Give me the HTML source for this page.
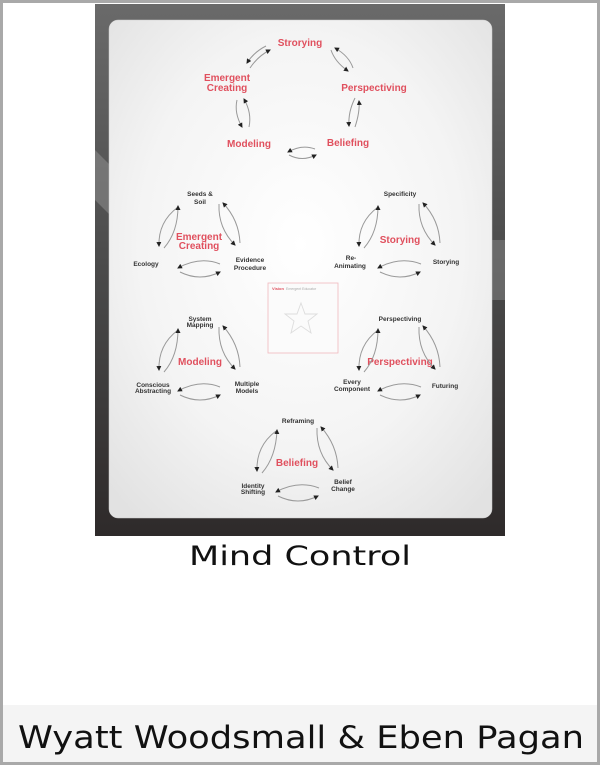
<!DOCTYPE html>
<html><head><meta charset="utf-8"><style>
html,body{margin:0;padding:0;background:#fff;}
svg{display:block;}
.r{font-family:"Liberation Sans",sans-serif;font-weight:bold;fill:#e0505e;font-size:10px;text-anchor:middle;}
.k{font-family:"Liberation Sans",sans-serif;font-weight:bold;fill:#333;font-size:6.5px;text-anchor:middle;}
.a{fill:none;stroke:#999;stroke-width:1;}
</style></head><body>
<svg width="600" height="765" viewBox="0 0 600 765" xmlns="http://www.w3.org/2000/svg">
<defs>
<marker id="m" markerWidth="5" markerHeight="5" refX="4" refY="2.5" orient="auto" markerUnits="userSpaceOnUse"><path d="M0,0 L5,2.5 L0,5z" fill="#222"/></marker>
<linearGradient id="dk" x1="0" y1="0" x2="0" y2="1">
<stop offset="0" stop-color="#6a6a6a"/><stop offset="0.5" stop-color="#4a4a4a"/><stop offset="1" stop-color="#2e2a2a"/></linearGradient>
<radialGradient id="cd" cx="0.5" cy="0.45" r="0.7"><stop offset="0" stop-color="#ffffff"/><stop offset="0.6" stop-color="#f4f4f4"/><stop offset="1" stop-color="#e2e2e2"/></radialGradient>
</defs>
<rect x="0" y="0" width="600" height="765" fill="#a9a9a9"/>
<rect x="3" y="3" width="594" height="759" fill="#fff"/>
<rect x="3" y="705" width="594" height="57" fill="#f4f4f4"/>
<rect x="95" y="4" width="410" height="532" fill="url(#dk)"/>
<polygon points="95,150 110,165 110,215 95,200" fill="#8a8a8a" opacity="0.6"/>
<rect x="492" y="240" width="13" height="60" fill="#888" opacity="0.5"/>
<rect x="109" y="20" width="383" height="498" rx="9" fill="url(#cd)" stroke="#ccc" stroke-width="0.5"/>

<text class="r" x="300" y="46">Strorying</text>
<text class="r" x="227" y="81">Emergent</text><text class="r" x="227" y="91">Creating</text>
<text class="r" x="374" y="91">Perspectiving</text>
<text class="r" x="249" y="147">Modeling</text>
<text class="r" x="348" y="146">Beliefing</text>
<path class="a" marker-end="url(#m)" d="M250,68 Q258,56 270,50"/>
<path class="a" marker-end="url(#m)" d="M266,46 Q254,52 247,63"/>
<path class="a" marker-end="url(#m)" d="M331,50 Q335,62 348,71"/>
<path class="a" marker-end="url(#m)" d="M353,68 Q349,56 335,48"/>
<path class="a" marker-end="url(#m)" d="M237,100 Q234,113 242,127"/>
<path class="a" marker-end="url(#m)" d="M249,127 Q252,113 244,99"/>
<path class="a" marker-end="url(#m)" d="M355,98 Q348,112 349,126"/>
<path class="a" marker-end="url(#m)" d="M355,127 Q360,112 359,101"/>
<path class="a" marker-end="url(#m)" d="M315,149 Q302,144 288,152"/>
<path class="a" marker-end="url(#m)" d="M289,155 Q302,162 316,155"/>

<g>
<text class="k" x="200" y="196">Seeds &amp;</text><text class="k" x="200" y="204">Soil</text>
<text class="r" x="199" y="240">Emergent</text><text class="r" x="199" y="249">Creating</text>
<text class="k" x="146" y="266">Ecology</text>
<text class="k" x="250" y="262">Evidence</text><text class="k" x="250" y="270">Procedure</text>
<path class="a" marker-end="url(#m)" d="M178,207 Q158,222 159,246"/>
<path class="a" marker-end="url(#m)" d="M164,248 Q178,232 178,206"/>
<path class="a" marker-end="url(#m)" d="M219,204 Q218,228 235,245"/>
<path class="a" marker-end="url(#m)" d="M240,243 Q239,220 223,203"/>
<path class="a" marker-end="url(#m)" d="M220,264 Q200,256 178,268"/>
<path class="a" marker-end="url(#m)" d="M180,272 Q200,282 220,272"/>
</g>
<g>
<text class="k" x="400" y="196">Specificity</text>
<text class="r" x="400" y="243">Storying</text>
<text class="k" x="351" y="260">Re-</text><text class="k" x="350" y="268">Animating</text>
<text class="k" x="446" y="264">Storying</text>
<path class="a" marker-end="url(#m)" d="M378,207 Q358,222 359,246"/>
<path class="a" marker-end="url(#m)" d="M364,248 Q378,232 378,206"/>
<path class="a" marker-end="url(#m)" d="M419,204 Q418,228 435,245"/>
<path class="a" marker-end="url(#m)" d="M440,243 Q439,220 423,203"/>
<path class="a" marker-end="url(#m)" d="M421,264 Q400,256 378,268"/>
<path class="a" marker-end="url(#m)" d="M380,272 Q400,282 420,272"/>
</g>
<g>
<text class="k" x="200" y="321">System</text><text class="k" x="200" y="327">Mapping</text>
<text class="r" x="200" y="365">Modeling</text>
<text class="k" x="153" y="387">Conscious</text><text class="k" x="153" y="393">Abstracting</text>
<text class="k" x="247" y="386">Multiple</text><text class="k" x="247" y="393">Models</text>
<path class="a" marker-end="url(#m)" d="M178,330 Q158,345 159,370"/>
<path class="a" marker-end="url(#m)" d="M164,372 Q178,356 178,329"/>
<path class="a" marker-end="url(#m)" d="M219,327 Q218,352 235,369"/>
<path class="a" marker-end="url(#m)" d="M240,367 Q239,344 223,326"/>
<path class="a" marker-end="url(#m)" d="M220,387 Q200,379 178,391"/>
<path class="a" marker-end="url(#m)" d="M180,395 Q200,405 220,395"/>
</g>
<g>
<text class="k" x="400" y="321">Perspectiving</text>
<text class="r" x="400" y="365">Perspectiving</text>
<text class="k" x="352" y="384">Every</text><text class="k" x="352" y="391">Component</text>
<text class="k" x="445" y="388">Futuring</text>
<path class="a" marker-end="url(#m)" d="M378,330 Q358,345 359,370"/>
<path class="a" marker-end="url(#m)" d="M364,372 Q378,356 378,329"/>
<path class="a" marker-end="url(#m)" d="M419,327 Q418,352 435,369"/>
<path class="a" marker-end="url(#m)" d="M440,367 Q439,344 423,326"/>
<path class="a" marker-end="url(#m)" d="M421,387 Q400,379 378,391"/>
<path class="a" marker-end="url(#m)" d="M380,395 Q400,405 420,395"/>
</g>
<g>
<text class="k" x="298" y="423">Reframing</text>
<text class="r" x="297" y="466">Beliefing</text>
<text class="k" x="253" y="488">Identity</text><text class="k" x="253" y="494">Shifting</text>
<text class="k" x="343" y="484">Belief</text><text class="k" x="343" y="491">Change</text>
<path class="a" marker-end="url(#m)" d="M276,431 Q256,446 257,471"/>
<path class="a" marker-end="url(#m)" d="M262,473 Q276,457 277,430"/>
<path class="a" marker-end="url(#m)" d="M317,428 Q316,453 333,470"/>
<path class="a" marker-end="url(#m)" d="M338,468 Q337,445 321,427"/>
<path class="a" marker-end="url(#m)" d="M319,488 Q298,480 276,492"/>
<path class="a" marker-end="url(#m)" d="M278,496 Q298,506 318,496"/>
</g>

<rect x="268" y="283" width="70" height="70" fill="#fbfbfb" stroke="#f0b8bd" stroke-width="0.8"/>
<text x="272" y="290" font-family="Liberation Sans,sans-serif" font-size="4" font-weight="bold" fill="#e0505e">Vision</text>
<text x="286" y="290" font-family="Liberation Sans,sans-serif" font-size="3.5" fill="#aaa">Emergent Educator</text>
<polygon points="301,303 305,314 317,314 308,321 311,333 301,326 291,333 294,321 285,314 297,314" fill="none" stroke="#ddd" stroke-width="0.9"/>

<text x="300" y="565" text-anchor="middle" font-family="DejaVu Sans,sans-serif" font-size="27" fill="#111" textLength="222" lengthAdjust="spacingAndGlyphs">Mind Control</text>
<text x="301" y="748" text-anchor="middle" font-family="DejaVu Sans,sans-serif" font-size="31" fill="#111" textLength="566" lengthAdjust="spacingAndGlyphs">Wyatt Woodsmall &amp; Eben Pagan</text>
</svg>
</body></html>
